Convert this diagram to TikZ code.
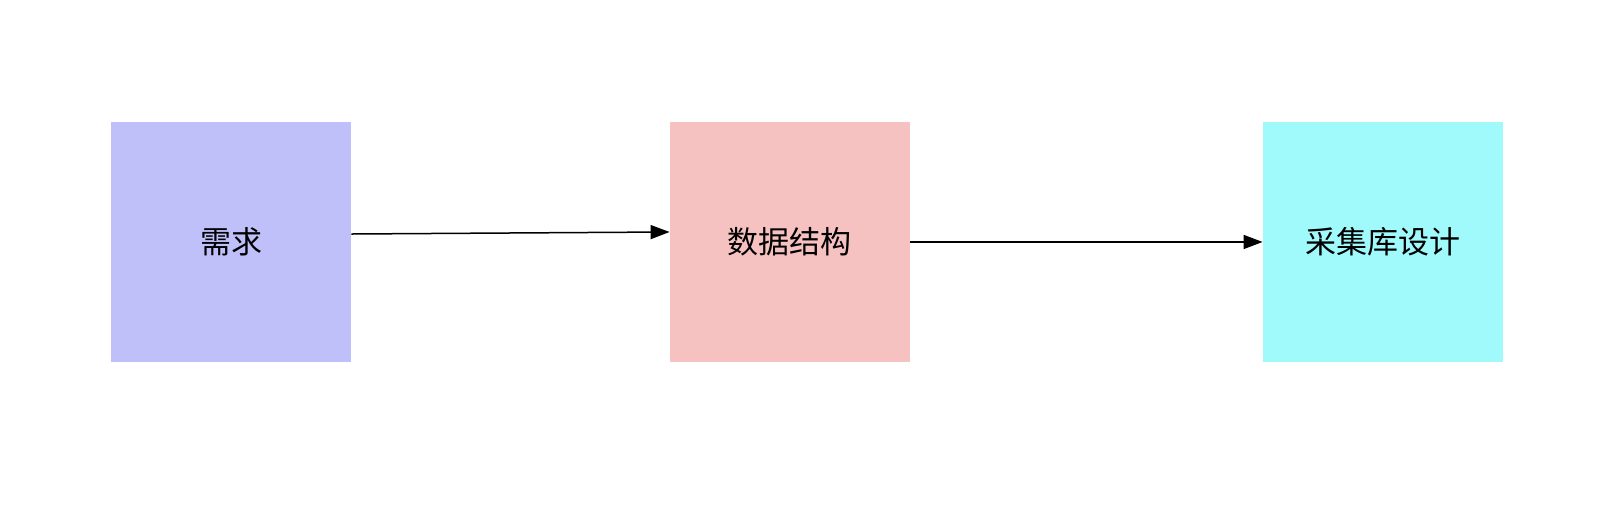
\documentclass[tikz,border=0pt]{standalone}
\usepackage{fontspec}
\newfontfamily\cjk{Noto Sans CJK SC}
\usepackage{tikz}
\usetikzlibrary{matrix,arrows.meta}
\definecolor{needblue}{HTML}{BFC0FA}
\definecolor{datapink}{HTML}{F5C1C1}
\definecolor{libcyan}{HTML}{A0FAFC}

\begin{document}
\begin{tikzpicture}[x=0.5pt,y=-0.5pt]
		\useasboundingbox (0,0) rectangle (1602,512);
		%\matrix(m)[matrix of nodes, row sep=3em, column sep=3em]
		\matrix(m)[matrix of nodes, column sep=159.5pt, at={(807,242)},
			nodes={minimum size=120pt, inner sep=0pt, font=\cjk\fontsize{15.5}{18}\selectfont}]
		{
			|[fill=needblue]| 需求 & |[fill=datapink]| 数据结构 &[17pt] |[fill=libcyan]| 采集库设计 \\
		};
		%\path[->,font=\scriptsize]
		\path[-{Triangle[length=9.5pt,width=7pt]}, line width=0.75pt]
		([yshift=4pt]m-1-1.east) edge ([yshift=5pt]m-1-2.west)
		(m-1-2) edge (m-1-3);
		\end{tikzpicture}
\end{document}
